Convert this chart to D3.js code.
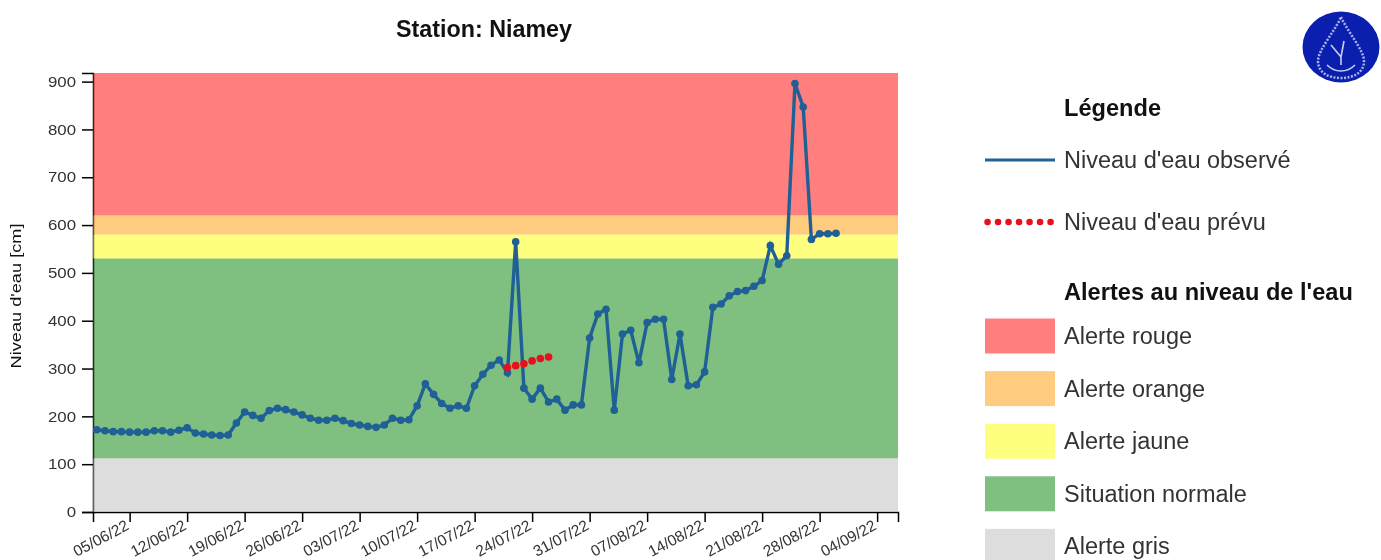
<!DOCTYPE html>
<head>
    <title>Station: Niamey</title>
    <meta charset="utf-8">
    <style>
        html, body { margin: 0; padding: 0; background: #fff; overflow: hidden; }
        svg { display: block; filter: blur(0.6px); font-family: "Liberation Sans", Arial, sans-serif; }
        .axis text { fill: #333; }
        .legend-text { font-size: 23.5px; fill: #333; }
        .legend-title { font-size: 23.6px; font-weight: bold; fill: #111; }
    </style>
</head>

<body>

<div id="chart"></div>

<script src="https://d3js.org/d3.v7.min.js"></script>

<script>

var width = 1381,
    height = 560,
    margin = {top: 73, right: 483, bottom: 48, left: 93};

// Daily water level, first value is 01/06/22
var firstDay = new Date(2022, 5, 1);
var observed = [
    172, 170, 168, 168, 167, 167, 167, 170, 170, 167,
    171, 176, 165, 163, 161, 160, 161, 186, 209, 202,
    196, 212, 217, 214, 209, 203, 196, 192, 192, 196,
    191, 185, 182, 179, 177, 182, 196, 192, 193, 222,
    268, 246, 227, 217, 222, 217, 264, 288, 307, 318,
    291, 565, 259, 236, 259, 230, 236, 213, 224, 224,
    364, 414, 424, 213, 372, 380, 312, 396, 403, 403,
    277, 372, 264, 266, 293, 428, 435, 452, 461, 463,
    472, 484, 557, 518, 536, 896, 847, 570, 582, 582,
    583
];

// Forecast starts on 21/07/22
var forecastStart = 50;
var forecast = [302, 306, 310, 316, 321, 324];

var bandNames = ["Alerte rouge", "Alerte orange", "Alerte jaune", "Situation normale", "Alerte gris"];
var bandColors = ["#ff0000", "#ff9900", "#ffff00", "#008000", "#bbbbbb"];
var bandTops = [918, 620, 580, 530, 112];
var bandBottoms = [620, 580, 530, 112, 0];

var yTicks = [0, 100, 200, 300, 400, 500, 600, 700, 800, 900];
var xTicks = ["05/06/22", "12/06/22", "19/06/22", "26/06/22", "03/07/22", "10/07/22", "17/07/22",
    "24/07/22", "31/07/22", "07/08/22", "14/08/22", "21/08/22", "28/08/22", "04/09/22"];

var parseTick = d3.timeParse("%d/%m/%y"),
    formatTick = d3.timeFormat("%d/%m/%y");

function dayToDate(i) {
    return d3.timeDay.offset(firstDay, i);
}

var svg = d3.select("#chart").append("svg")
    .attr("width", width)
    .attr("height", height);

var x = d3.scaleTime()
    .domain([new Date(2022, 4, 31, 13), new Date(2022, 8, 6, 13)])
    .range([margin.left, width - margin.right]);

var y = d3.scaleLinear()
    .domain([0, 918])
    .range([height - margin.bottom, margin.top]);

// Axes go first, the transparent bands sit on top of them
var xAxis = svg.append("g")
    .attr("class", "axis")
    .attr("transform", "translate(0," + y(0) + ")")
    .call(d3.axisBottom(x)
        .tickValues(xTicks.map(parseTick))
        .tickFormat(formatTick)
        .tickSize(10));

xAxis.selectAll("text")
    .style("font-size", "15.5px")
    .style("text-anchor", "end")
    .attr("x", -8)
    .attr("y", 7)
    .attr("dy", "0.5em")
    .attr("transform", "rotate(-28)");

var yAxis = svg.append("g")
    .attr("class", "axis")
    .attr("transform", "translate(" + margin.left + ",0)")
    .call(d3.axisLeft(y)
        .tickValues(yTicks)
        .tickSize(11));

// labels are a bit wider than tall in the original
yAxis.selectAll("text")
    .style("font-size", "14.5px")
    .attr("x", -17 / 1.16)
    .attr("transform", "scale(1.16,1)");

svg.selectAll(".axis path, .axis line").attr("stroke-width", 1.5);

svg.selectAll(".band")
    .data(bandNames)
    .enter().append("rect")
    .attr("class", "band")
    .attr("x", margin.left)
    .attr("width", width - margin.right - margin.left)
    .attr("y", function(d, i) { return y(bandTops[i]); })
    .attr("height", function(d, i) { return y(bandBottoms[i]) - y(bandTops[i]); })
    .style("fill", function(d, i) { return bandColors[i]; })
    .style("fill-opacity", 0.5);

svg.append("text")
    .attr("transform", "translate(21,296) rotate(-90) scale(1.3,1)")
    .style("text-anchor", "middle")
    .style("font-size", "14px")
    .style("fill", "#111")
    .text("Niveau d'eau [cm]");

svg.append("text")
    .attr("x", 484)
    .attr("y", 37)
    .style("text-anchor", "middle")
    .style("font-size", "23.3px")
    .style("font-weight", "bold")
    .style("fill", "#111")
    .text("Station: Niamey");

var blue = "#1f6096",
    red = "#e8101c";

var line = d3.line()
    .x(function(d, i) { return x(dayToDate(i)); })
    .y(function(d) { return y(d); });

svg.append("path")
    .datum(observed)
    .attr("d", line)
    .style("fill", "none")
    .style("stroke", blue)
    .style("stroke-width", 3.4);

svg.selectAll(".obs")
    .data(observed)
    .enter().append("circle")
    .attr("class", "obs")
    .attr("cx", function(d, i) { return x(dayToDate(i)); })
    .attr("cy", function(d) { return y(d); })
    .attr("r", 3.8)
    .style("fill", blue);

svg.selectAll(".fcst")
    .data(forecast)
    .enter().append("circle")
    .attr("class", "fcst")
    .attr("cx", function(d, i) { return x(dayToDate(i + forecastStart)); })
    .attr("cy", function(d) { return y(d); })
    .attr("r", 3.8)
    .style("fill", red);

// Legend
var legend = svg.append("g");

legend.append("text").attr("class", "legend-title")
    .attr("x", 1064).attr("y", 116).text("Légende");

legend.append("line")
    .attr("x1", 985).attr("x2", 1055).attr("y1", 160).attr("y2", 160)
    .style("stroke", blue).style("stroke-width", 3);

legend.append("text").attr("class", "legend-text")
    .attr("x", 1064).attr("y", 168).text("Niveau d'eau observé");

legend.append("line")
    .attr("x1", 987.5).attr("x2", 1053).attr("y1", 222).attr("y2", 222)
    .style("stroke", red).style("stroke-width", 6.5)
    .style("stroke-linecap", "round")
    .style("stroke-dasharray", "0.1 10.4");

legend.append("text").attr("class", "legend-text")
    .attr("x", 1064).attr("y", 230).text("Niveau d'eau prévu");

legend.append("text").attr("class", "legend-title")
    .attr("x", 1064).attr("y", 300).text("Alertes au niveau de l'eau");

legend.selectAll(".swatch")
    .data(bandNames)
    .enter().append("rect")
    .attr("class", "swatch")
    .attr("x", 985)
    .attr("y", function(d, i) { return 318.5 + i * 52.6; })
    .attr("width", 70)
    .attr("height", 35)
    .style("fill", function(d, i) { return bandColors[i]; })
    .style("fill-opacity", 0.5);

legend.selectAll(".swatch-label")
    .data(bandNames)
    .enter().append("text")
    .attr("class", "legend-text swatch-label")
    .attr("x", 1064)
    .attr("y", function(d, i) { return 344 + i * 52.6; })
    .text(function(d) { return d; });

// Logo in the top right corner
var logo = svg.append("g").attr("transform", "translate(1341,47)");

logo.append("ellipse")
    .attr("rx", 38.5)
    .attr("ry", 35.5)
    .style("fill", "#0a1fae");

logo.append("path")
    .attr("d", "M0,-30 C6,-16 23,3 23,14 C23,26 12,31 0,31 C-12,31 -23,26 -23,14 C-23,3 -6,-16 0,-30 Z")
    .style("fill", "none")
    .style("stroke", "#aab4e8")
    .style("stroke-width", 2.5)
    .style("stroke-dasharray", "2 1.5");

logo.append("path")
    .attr("d", "M-10,-2 L0,10 L3,-6 M-14,18 C-6,26 6,26 14,18 M0,10 L0,18")
    .style("fill", "none")
    .style("stroke", "#c8cff0")
    .style("stroke-width", 1.6);

</script>

</body>
</html>
